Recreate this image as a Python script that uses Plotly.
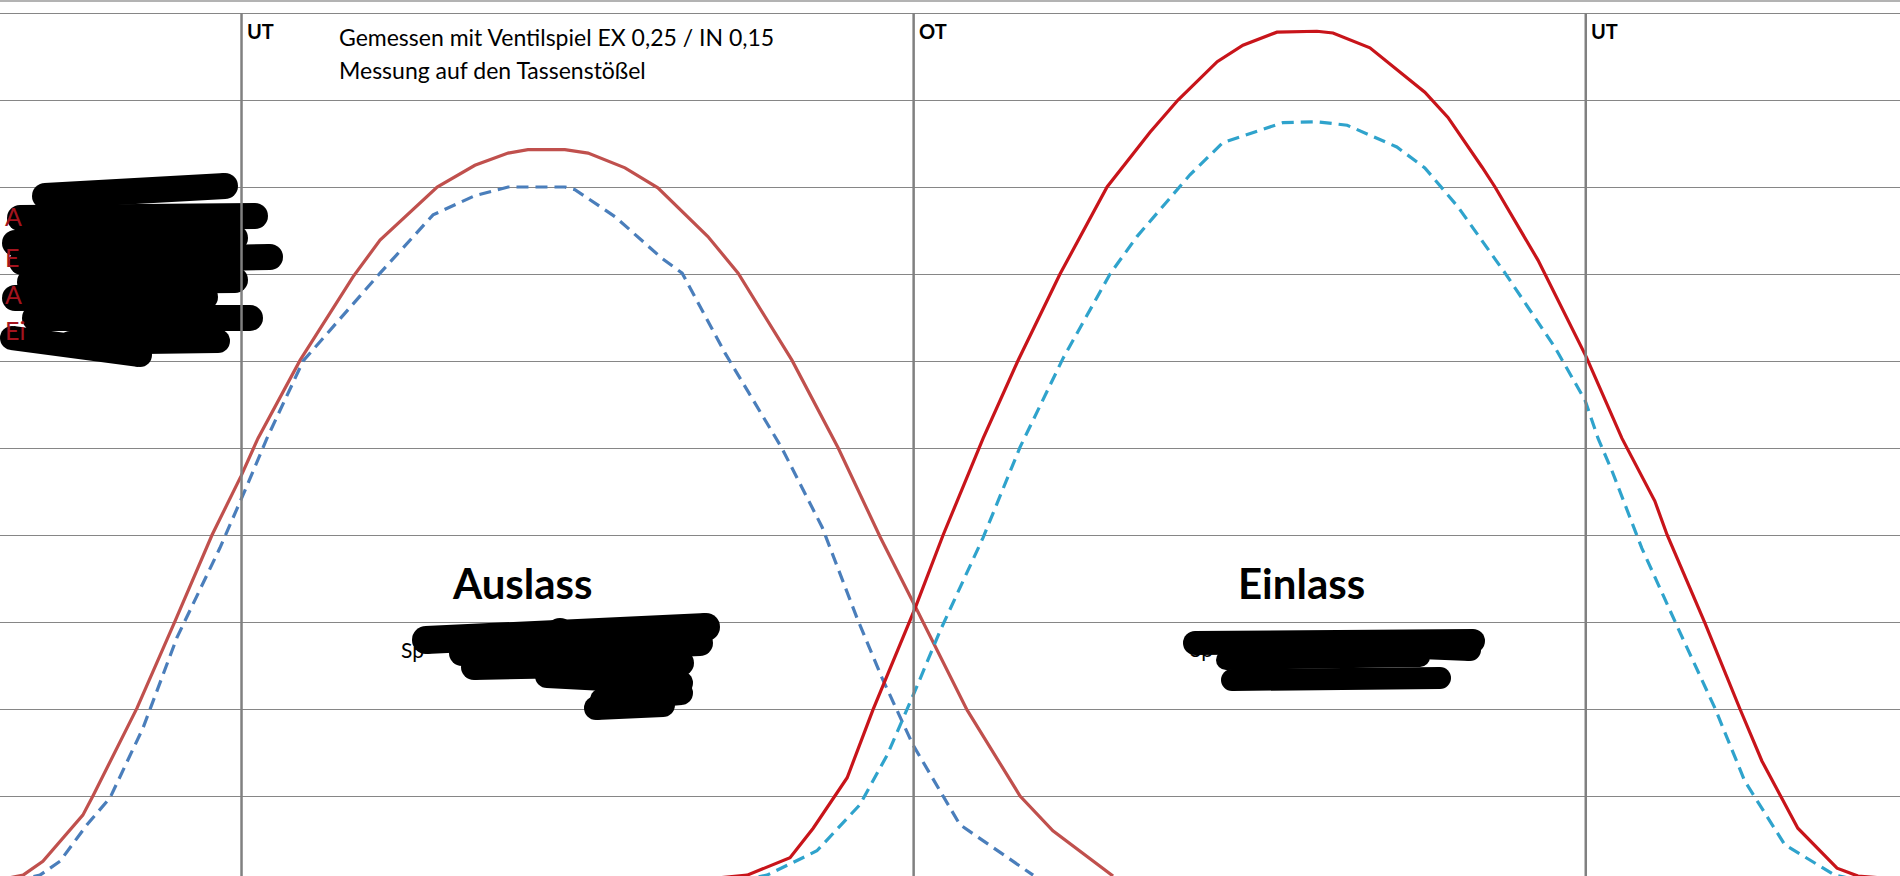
import plotly.graph_objects as go

# Kurbelwinkel (Grad) und Ventilhub (mm)
aus_winkel = [116.7, 121.5, 126.8, 132.2, 137.5, 140.2, 152.0, 162.2, 172.1, 179.9, 184.4, 195.7,
              209.9, 217.1, 232.4, 242.5, 251.4, 256.7, 266.6, 272.8, 282.7, 291.5, 304.9, 313.0,
              327.4, 339.8, 351.0, 360.4, 374.3, 388.5, 397.3, 413.4]
aus_hub = [0.05, 0.09, 0.25, 0.52, 0.78, 1.00, 2.01, 3.01, 4.00, 4.68, 5.11, 6.01,
           6.97, 7.39, 8.00, 8.25, 8.39, 8.43, 8.43, 8.39, 8.22, 7.99, 7.43, 7.01,
           6.01, 5.00, 3.98, 3.18, 1.99, 1.00, 0.60, 0.08]

aus2_winkel = [119.3, 126.0, 131.4, 138.6, 144.8, 153.6, 162.7, 174.2, 180.9, 186.8, 196.5, 217.1,
               231.3, 242.5, 251.4, 266.6, 269.3, 280.0, 292.6, 298.0, 309.5, 324.7, 335.5, 344.8,
               351.5, 359.8, 372.4, 392.0]
aus2_hub = [0.03, 0.09, 0.25, 0.67, 0.98, 1.78, 2.82, 3.85, 4.51, 5.11, 6.00, 7.01,
            7.68, 7.90, 8.00, 8.00, 7.97, 7.66, 7.18, 7.01, 6.09, 5.00, 4.09, 3.05,
            2.36, 1.59, 0.67, 0.09]

ein_winkel = [308.1, 315.4, 326.9, 333.1, 342.2, 349.1, 360.4, 367.9, 378.6, 387.9, 399.2, 411.8,
              423.3, 430.8, 441.3, 448.2, 457.3, 468.0, 472.3, 482.2, 496.9, 503.1, 512.2, 515.7,
              527.2, 532.6, 540.1, 549.7, 558.5, 561.8, 571.9, 581.3, 587.2, 596.8, 607.3, 612.9, 621.5]
ein_hub = [0.06, 0.09, 0.29, 0.63, 1.21, 1.99, 3.16, 4.00, 5.11, 6.00, 7.00, 8.00,
           8.63, 9.00, 9.44, 9.63, 9.78, 9.79, 9.77, 9.60, 9.09, 8.80, 8.23, 8.00,
           7.16, 6.70, 6.05, 5.11, 4.39, 4.00, 2.99, 2.00, 1.40, 0.63, 0.17, 0.08, 0.05]

ein2_winkel = [313.5, 320.7, 334.1, 345.6, 352.9, 360.4, 367.1, 378.6, 388.5, 400.0, 412.6, 419.8,
               434.0, 442.8, 458.9, 468.0, 476.1, 489.4, 496.9, 505.8, 518.4, 531.7, 539.8, 543.3,
               547.0, 555.0, 564.7, 574.6, 582.6, 593.3, 606.7, 613.4]
ein2_hub = [0.03, 0.09, 0.37, 0.90, 1.47, 2.21, 2.90, 3.97, 5.01, 6.03, 7.00, 7.43,
            8.14, 8.51, 8.74, 8.75, 8.71, 8.46, 8.22, 7.77, 7.01, 6.16, 5.55, 5.11,
            4.74, 3.85, 2.93, 2.01, 1.17, 0.44, 0.09, 0.03]

totpunkte = [180, 360, 540]
totpunkt_namen = ["UT", "OT", "UT"]

W, H = 1900, 876
X0, PX_PRO_GRAD = 115.32, 3.734
Y0_PX, PX_PRO_MM = 883, 87


def gx(px):
    return X0 + px / PX_PRO_GRAD


def gy(py):
    return (Y0_PX - py) / PX_PRO_MM


fig = go.Figure()
fig.add_trace(go.Scatter(x=aus_winkel, y=aus_hub, mode="lines",
                         line=dict(color="#C0504D", width=3.2)))
fig.add_trace(go.Scatter(x=aus2_winkel, y=aus2_hub, mode="lines",
                         line=dict(color="#4A7EBB", width=3.2, dash="12px,7px")))
fig.add_trace(go.Scatter(x=ein_winkel, y=ein_hub, mode="lines",
                         line=dict(color="#C8141A", width=3.2)))
fig.add_trace(go.Scatter(x=ein2_winkel, y=ein2_hub, mode="lines",
                         line=dict(color="#2FA3CC", width=3.2, dash="12px,7px")))

# geschwaerzte Stellen (breite, strich)
striche = [
    (26, [(45, 196), (225, 186)]), (26, [(20, 218), (255, 216)]), (26, [(15, 243), (235, 238)]),
    (26, [(22, 262), (270, 257)]), (26, [(30, 282), (235, 280)]), (26, [(15, 298), (205, 297)]),
    (26, [(35, 318), (250, 318)]), (24, [(12, 338), (140, 355)]), (24, [(70, 343), (218, 341)]),
    (26, [(60, 230), (225, 230)]), (26, [(40, 306), (200, 308)]), (26, [(50, 270), (230, 270)]),
    (28, [(426, 640), (560, 632), (706, 627)]), (26, [(462, 653), (700, 643)]),
    (26, [(474, 667), (681, 663)]), (24, [(547, 676), (681, 683)]),
    (24, [(602, 700), (681, 693)]), (24, [(596, 708), (663, 705)]),
    (24, [(1195, 643), (1473, 641)]), (20, [(1226, 660), (1420, 657)]),
    (22, [(1232, 680), (1440, 678)]), (22, [(1420, 648), (1470, 650)]),
]
for breite, s in striche:
    fig.add_trace(go.Scatter(x=[gx(p[0]) for p in s], y=[gy(p[1]) for p in s],
                             mode="lines+markers", hoverinfo="skip",
                             line=dict(color="black", width=breite),
                             marker=dict(color="black", size=breite)))

for t in totpunkte:
    fig.add_shape(type="line", x0=t, x1=t, y0=0, y1=10, line=dict(color="#808080", width=2.5))
fig.add_shape(type="line", xref="paper", yref="paper", x0=0, x1=1, y0=0.999, y1=0.999,
              line=dict(color="#9a9a9a", width=1.5))

for t, n in zip(totpunkte, totpunkt_namen):
    fig.add_annotation(x=t, y=1 - 31 / H, yref="paper", yanchor="middle", text="<b>" + n + "</b>",
                       showarrow=False, xanchor="left", xshift=3,
                       font=dict(family="Lato", size=20, color="black"))


def text(px, py, s, size, bold=False, color="black", anchor="left"):
    if bold:
        s = "<b>" + s + "</b>"
    fig.add_annotation(x=px / W, y=1 - py / H, xref="paper", yref="paper", text=s,
                       showarrow=False, xanchor=anchor, yanchor="middle",
                       font=dict(family="Lato", size=size, color=color))


text(337, 37, "Gemessen mit Ventilspiel EX 0,25 / IN 0,15", 23)
text(337, 70, "Messung auf den Tassenstößel", 23)
text(522, 583, "Auslass", 42, bold=True, anchor="center")
text(1301, 583, "Einlass", 42, bold=True, anchor="center")
text(399, 649, "Sp", 21)
text(1188, 648, "Sp", 21)
for py, s in [(216, "A"), (257, "E"), (294, "A"), (330, "Ei")]:
    text(3, py, s, 25, color="#A3141E")

fig.update_layout(
    width=W, height=H, margin=dict(l=0, r=0, t=0, b=0),
    plot_bgcolor="white", paper_bgcolor="white", showlegend=False,
    xaxis=dict(range=[X0, X0 + W / PX_PRO_GRAD], showgrid=False, zeroline=False,
               showticklabels=False, ticks=""),
    yaxis=dict(range=[gy(H), gy(0)], tick0=0, dtick=1, showgrid=True, gridcolor="#868686",
               gridwidth=1.3, zeroline=False, showticklabels=False, ticks=""),
)

fig.write_html("out.html", config={"displayModeBar": False},
               post_script="document.body.style.margin='0';document.body.style.overflow='hidden';")
